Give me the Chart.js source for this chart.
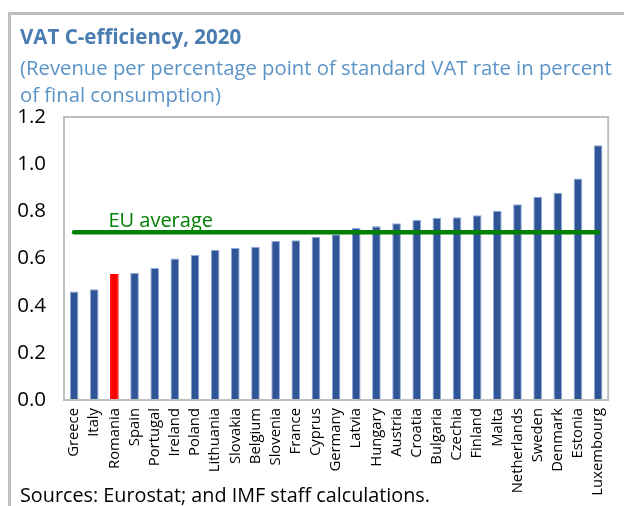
<!DOCTYPE html>
<html>
<head>
<meta charset="utf-8">
<script src="https://cdn.jsdelivr.net/npm/chart.js@4/dist/chart.umd.min.js"></script>
<style>
  html, body { margin: 0; padding: 0; background: #fff; }
  body { width: 624px; height: 506px; position: relative; overflow: hidden; font-family: "Open Sans", sans-serif; }
  #frame { position: absolute; left: 8px; top: 12px; width: 640px; height: 520px; border-left: 3px solid #BFBFBF; border-top: 3px solid #BFBFBF; box-sizing: border-box; }
  #title { position: absolute; left: 20px; top: 22px; font-size: 20.5px; line-height: 28px; font-weight: bold; color: #4A7DB0; white-space: nowrap; }
  #subtitle { position: absolute; left: 20px; top: 54px; font-size: 20.3px; line-height: 27px; color: #5B93C7; white-space: nowrap; }
  #source { position: absolute; left: 20px; top: 481px; font-size: 19.8px; line-height: 27px; color: #000; white-space: nowrap; }
  #wrap { position: absolute; left: 0; top: 0; width: 624px; height: 506px; }
</style>
</head>
<body>
<div id="frame"></div>
<div id="wrap"><canvas id="c" width="624" height="506"></canvas></div>
<div id="title">VAT C-efficiency, 2020</div>
<div id="subtitle">(Revenue per percentage point of standard VAT rate in percent<br>of final consumption)</div>
<div id="source">Sources: Eurostat; and IMF staff calculations.</div>
<script>
const countries = ["Greece","Italy","Romania","Spain","Portugal","Ireland","Poland","Lithuania","Slovakia","Belgium","Slovenia","France","Cyprus","Germany","Latvia","Hungary","Austria","Croatia","Bulgaria","Czechia","Finland","Malta","Netherlands","Sweden","Denmark","Estonia","Luxembourg"];
const cEfficiency = [0.46,0.47,0.534,0.54,0.56,0.60,0.615,0.637,0.645,0.65,0.674,0.677,0.692,0.703,0.729,0.737,0.749,0.763,0.773,0.775,0.783,0.803,0.83,0.862,0.879,0.939,1.08];
const euAverage = 0.711;
const highlight = "Romania";
const yTicks = [0, 0.2, 0.4, 0.6, 0.8, 1.0, 1.2];

const barColors = countries.map(c => c === highlight ? "#FF0000" : "#2F5597");
const barBorders = countries.map(c => c === highlight ? "#FF0000" : "#8FAADC");

const framePlugin = {
  id: "frame",
  afterDraw(chart) {
    const {ctx, chartArea: a} = chart;
    ctx.save();
    ctx.strokeStyle = "#BFBFBF";
    ctx.lineWidth = 2;
    ctx.strokeRect(a.left, a.top, a.right - a.left, a.bottom - a.top);
    ctx.restore();
  }
};
const labelPlugin = {
  id: "euLabel",
  afterDatasetsDraw(chart) {
    const {ctx, scales: {x, y}} = chart;
    ctx.save();
    ctx.font = "20px 'Open Sans'";
    ctx.fillStyle = "#008000";
    ctx.textAlign = "left";
    ctx.textBaseline = "alphabetic";
    ctx.fillText("EU average", x.getPixelForValue(2) - 6, y.getPixelForValue(euAverage) - 5);
    ctx.restore();
  }
};

new Chart(document.getElementById("c"), {
  data: {
    labels: countries,
    datasets: [
      {
        type: "line",
        data: countries.map(() => euAverage),
        borderColor: "#008000",
        borderWidth: 4.5,
        borderCapStyle: "round",
        pointRadius: 0,
        order: 0
      },
      {
        type: "bar",
        data: cEfficiency,
        backgroundColor: barColors,
        borderColor: barBorders,
        borderWidth: 1,
        barPercentage: 0.43,
        categoryPercentage: 1.0,
        order: 1
      }
    ]
  },
  options: {
    responsive: false,
    animation: false,
    events: [],
    layout: { padding: { left: 10, top: 117, right: 7, bottom: 0 } },
    plugins: { legend: { display: false }, tooltip: { enabled: false } },
    scales: {
      x: {
        grid: { display: false, drawTicks: false },
        border: { display: false },
        ticks: {
          color: "#000",
          font: { family: "Open Sans", size: 14.8 },
          maxRotation: 90, minRotation: 90, autoSkip: false, padding: 8
        },
        afterFit(s) { s.height = 106; }
      },
      y: {
        min: 0, max: 1.2,
        grid: { display: false, drawTicks: false },
        border: { display: false },
        afterBuildTicks(s) { s.ticks = yTicks.map(v => ({ value: v })); },
        ticks: {
          color: "#000",
          font: { family: "Open Sans", size: 20.5 },
          padding: 18,
          callback: v => Number(v).toFixed(1)
        },
        afterFit(s) { s.width = 54; }
      }
    }
  },
  plugins: [framePlugin, labelPlugin]
});
</script>
</body>
</html>
